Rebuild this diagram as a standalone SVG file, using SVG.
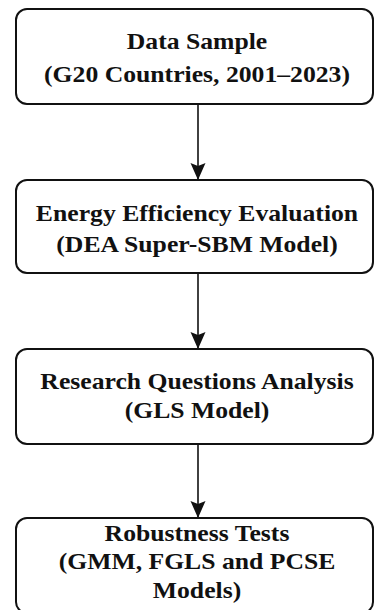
<svg xmlns="http://www.w3.org/2000/svg" width="374" height="610" viewBox="0 0 374 610">
<style>
.box{fill:#ffffff;stroke:#111111;stroke-width:2}
.c{stroke:#111111;stroke-width:1.6;fill:none}
.ah{fill:#111111}
text{font-family:"Liberation Serif","Times New Roman",serif;font-weight:700;font-size:24px;fill:#111111;text-anchor:middle}
</style>
<rect width="374" height="610" fill="#ffffff"/>
<g id="connectors">
<line class="c" x1="198" y1="104" x2="198" y2="180"/>
<path class="ah" d="M190.5,163 L198,166 L205.5,163 L198,180 Z"/>
<line class="c" x1="198" y1="273" x2="198" y2="349"/>
<path class="ah" d="M190.5,332 L198,335 L205.5,332 L198,349 Z"/>
<line class="c" x1="198" y1="444" x2="198" y2="518"/>
<path class="ah" d="M190.5,501 L198,504 L205.5,501 L198,518 Z"/>
</g>
<g id="node1">
<rect class="box" x="16" y="9" width="357" height="95" rx="11"/>
<g transform="translate(197,0) scale(1.07,1)">
<text x="0" y="49">Data Sample</text>
<text x="0" y="82">(G20 Countries, 2001–2023)</text>
</g>
</g>
<g id="node2">
<rect class="box" x="16" y="180" width="357" height="93" rx="11"/>
<g transform="translate(197,0) scale(1.07,1)">
<text x="0" y="221">Energy Efficiency Evaluation</text>
<text x="0" y="252">(DEA Super-SBM Model)</text>
</g>
</g>
<g id="node3">
<rect class="box" x="16" y="349" width="357" height="95" rx="11"/>
<g transform="translate(197,0) scale(1.07,1)">
<text x="0" y="389">Research Questions Analysis</text>
<text x="0" y="418">(GLS Model)</text>
</g>
</g>
<g id="node4">
<rect class="box" x="16" y="518" width="357" height="95" rx="11"/>
<g transform="translate(197,0) scale(1.07,1)">
<text x="0" y="541">Robustness Tests</text>
<text x="0" y="569">(GMM, FGLS and PCSE</text>
<text x="0" y="598">Models)</text>
</g>
</g>
</svg>
